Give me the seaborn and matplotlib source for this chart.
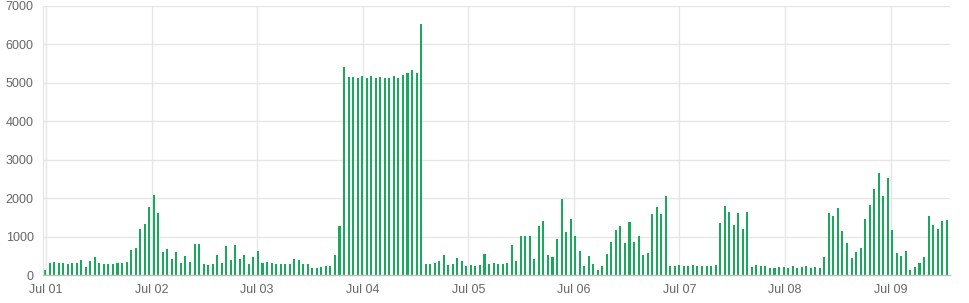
import numpy as np
import pandas as pd
import matplotlib
matplotlib.use("Agg")
import matplotlib.pyplot as plt
import seaborn as sns

# ---- data ----
jul01 = [140, 315, 345, 320, 320, 295, 320, 320, 400, 210, 370, 475,
         320, 295, 295, 295, 320, 320, 345, 660, 710, 1200, 1335, 1775]
jul02 = [2090, 1620, 610, 685, 425, 610, 325, 505, 350, 815, 815, 295,
         270, 295, 530, 320, 765, 400, 790, 425, 530, 295, 480, 635]
jul03 = [320, 345, 320, 295, 295, 295, 295, 425, 400, 295, 295, 190,
         190, 215, 240, 240, 530, 1280]
jul04 = [5410, 5150, 5150, 5120, 5170, 5120, 5170, 5120, 5150, 5120, 5120, 5170,
         5120, 5200, 5250, 5330, 5250, 6530]
jul05 = [295, 295, 320, 370, 530, 270, 295, 450, 370, 240, 270, 240,
         270, 555, 295, 320, 295, 295, 320, 790, 370, 1020, 1020, 1020,
         425, 1280, 1410, 530, 475, 945, 1985, 1125, 1465, 1020, 630, 240,
         500, 295, 140, 240, 555, 865, 1175, 1280]
jul06 = [840, 1385, 865, 1020, 530, 580, 1595, 1775, 1595, 2060, 240, 240,
         270, 240, 240, 270, 240, 240, 240, 240, 270, 1360, 1800, 1645,
         1305, 1620, 1205, 1645, 215, 270, 240, 240, 190, 190]
jul08 = [215, 215, 190, 240, 190, 215, 240, 190, 215, 190, 475, 1620,
         1540, 1750, 1150, 840, 450, 605, 710, 1465, 1825, 2240, 2660, 2060,
         2530, 1175, 580, 500, 630, 140, 215, 320, 475, 1540, 1305, 1205,
         1410, 1435]
values = jul01 + jul02 + jul03 + jul04 + jul05 + jul06 + jul08

tick_labels = ["Jul 01", "Jul 02", "Jul 03", "Jul 04", "Jul 05",
               "Jul 06", "Jul 07", "Jul 08", "Jul 09"]
y_ticks = [0, 1000, 2000, 3000, 4000, 5000, 6000, 7000]

# ---- layout constants ----
BARS_PER_DAY = 23.3
FIRST_TICK = 0.22
W, H = 970, 303

sns.set_theme(style="white")
plt.rcParams["font.family"] = ["Liberation Sans", "DejaVu Sans"]

fig = plt.figure(figsize=(W / 100, H / 100), dpi=100)
ax = fig.add_axes([43 / W, (H - 275.3) / H, (950 - 43) / W, (275.3 - 6) / H])

df = pd.DataFrame({"i": np.arange(len(values)), "v": values})
sns.barplot(data=df, x="i", y="v", native_scale=True, color="#1aa95c",
            saturation=1, width=0.45, errorbar=None, ax=ax, linewidth=0)

grid_c = "#e6e6e6"
tick_pos = [FIRST_TICK + k * BARS_PER_DAY for k in range(len(tick_labels))]
ax.set_xticks(tick_pos)
ax.set_xticklabels(tick_labels)
ax.set_yticks(y_ticks)
ax.set_yticklabels([str(t) for t in y_ticks])
ax.set_xlim(-0.44, 199.73)
ax.set_ylim(0, 7000)
ax.set_xlabel("")
ax.set_ylabel("")

ax.grid(True, color=grid_c, linewidth=1)
ax.set_axisbelow(True)
for s in ["top", "right"]:
    ax.spines[s].set_visible(False)
ax.spines["left"].set_color(grid_c)
ax.spines["left"].set_linewidth(1)
ax.spines["bottom"].set_color("#c0c0c0")
ax.spines["bottom"].set_linewidth(1)

ax.tick_params(axis="y", length=5.2, width=0.75, color=grid_c, pad=1.5,
               labelsize=9, labelcolor="#666666")
ax.tick_params(axis="x", length=3.8, width=0.75, color=grid_c, pad=2.5,
               labelsize=9, labelcolor="#666666")

fig.savefig("out.png", dpi=100)
